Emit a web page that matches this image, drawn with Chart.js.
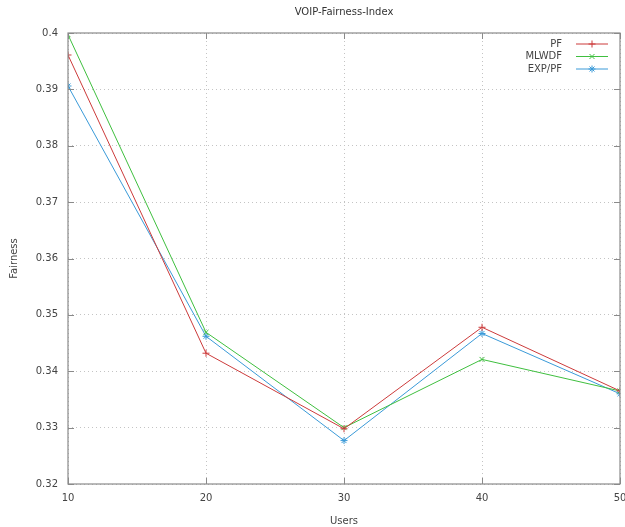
<!DOCTYPE html>
<html>
<head>
<meta charset="utf-8">
<script src="https://cdn.jsdelivr.net/npm/chart.js@4"></script>
<style>
  html, body { margin: 0; padding: 0; background: #fff; }
  #wrap { width: 625px; height: 527px; }
</style>
</head>
<body>
<div id="wrap"><canvas id="c" width="625" height="527"></canvas></div>
<script>
// Fairness index per number of users
const users = [10, 20, 30, 40, 50];
const pfValues    = [0.3961, 0.3432, 0.3298, 0.3478, 0.3365];
const mlwdfValues = [0.3997, 0.3469, 0.3300, 0.3421, 0.3365];
const expPfValues = [0.3906, 0.3462, 0.3277, 0.3467, 0.3360];
const yTicks = [0.32, 0.33, 0.34, 0.35, 0.36, 0.37, 0.38, 0.39, 0.4];
const xTicks = [10, 20, 30, 40, 50];
const chartTitle = 'VOIP-Fairness-Index';

const FONT = '"DejaVu Sans", sans-serif';
const FONT_SIZE = 10;
const TEXT_COLOR = '#444';
const AXIS_COLOR = '#8a8a8a';
const GRID_COLOR = '#c4c4c4';

const series = [
  { label: 'PF',     data: pfValues,    color: '#cc3b3b', style: 'cross' },
  { label: 'MLWDF',  data: mlwdfValues, color: '#3fbf3f', style: 'crossRot' },
  { label: 'EXP/PF', data: expPfValues, color: '#3a9ad8', style: 'star' }
];

// Plot frame with inward ticks on all four sides, and the title centred over the plot
const framePlugin = {
  id: 'frame',
  afterDatasetsDraw(chart) {
    const { ctx, chartArea: a, scales } = chart;
    ctx.save();
    ctx.strokeStyle = AXIS_COLOR;
    ctx.lineWidth = 1.2;
    ctx.strokeRect(a.left, a.top, a.right - a.left, a.bottom - a.top);
    ctx.lineWidth = 1;
    const t = 6;
    yTicks.forEach(v => {
      const y = Math.round(scales.y.getPixelForValue(v)) + 0.5;
      ctx.beginPath();
      ctx.moveTo(a.left, y); ctx.lineTo(a.left + t, y);
      ctx.moveTo(a.right, y); ctx.lineTo(a.right - t, y);
      ctx.stroke();
    });
    xTicks.forEach(v => {
      const x = Math.round(scales.x.getPixelForValue(v)) + 0.5;
      ctx.beginPath();
      ctx.moveTo(x, a.bottom); ctx.lineTo(x, a.bottom - t);
      ctx.moveTo(x, a.top); ctx.lineTo(x, a.top + t);
      ctx.stroke();
    });
    ctx.font = FONT_SIZE + 'px ' + FONT;
    ctx.fillStyle = '#333';
    ctx.textAlign = 'center';
    ctx.textBaseline = 'middle';
    ctx.fillText(chartTitle, (a.left + a.right) / 2, 12);
    ctx.restore();
  }
};

// Key in the upper right corner: label, then a line sample with its marker
const keyPlugin = {
  id: 'key',
  afterDraw(chart) {
    const { ctx, chartArea: a } = chart;
    ctx.save();
    ctx.font = FONT_SIZE + 'px ' + FONT;
    ctx.textAlign = 'right';
    ctx.textBaseline = 'middle';
    series.forEach((s, i) => {
      const y = a.top + 11 + i * 12.5;
      ctx.fillStyle = TEXT_COLOR;
      ctx.fillText(s.label, a.left + 494, y);
      const x0 = a.left + 508, x1 = a.left + 540;
      ctx.strokeStyle = s.color;
      ctx.lineWidth = 1;
      ctx.beginPath();
      ctx.moveTo(x0, y); ctx.lineTo(x1, y);
      ctx.stroke();
      Chart.helpers.drawPoint(ctx, {
        pointStyle: s.style, radius: 3.5, borderWidth: 1
      }, (x0 + x1) / 2, y);
    });
    ctx.restore();
  }
};

new Chart(document.getElementById('c'), {
  type: 'line',
  data: {
    datasets: series.map(s => ({
      label: s.label,
      data: users.map((u, i) => ({ x: u, y: s.data[i] })),
      borderColor: s.color,
      backgroundColor: s.color,
      borderWidth: 1,
      pointStyle: s.style,
      pointRadius: 3.5,
      pointBorderWidth: 1,
      pointBorderColor: s.color,
      tension: 0,
      fill: false
    }))
  },
  options: {
    responsive: false,
    animation: false,
    devicePixelRatio: 1,
    layout: { padding: { top: 33, right: 3, bottom: 0, left: 8 } },
    plugins: {
      legend: { display: false },
      tooltip: { enabled: false },
      title: { display: false }
    },
    scales: {
      x: {
        type: 'linear',
        min: 10, max: 50,
        afterBuildTicks(scale) { scale.ticks = xTicks.map(v => ({ value: v })); },
        afterFit(scale) { scale.height = 43; scale.paddingRight = 0; scale.paddingLeft = 0; },
        grid: { color: GRID_COLOR, lineWidth: 1, drawTicks: false },
        border: { display: false, dash: [1, 3] },
        ticks: {
          color: TEXT_COLOR,
          padding: 8,
          font: { family: FONT, size: FONT_SIZE },
          maxRotation: 0,
          callback: v => String(v)
        },
        title: {
          display: true,
          text: 'Users',
          color: TEXT_COLOR,
          font: { family: FONT, size: FONT_SIZE },
          padding: { top: 3, bottom: 0 }
        }
      },
      y: {
        type: 'linear',
        min: 0.32, max: 0.4,
        afterBuildTicks(scale) { scale.ticks = yTicks.map(v => ({ value: v })); },
        afterFit(scale) { scale.width = 60; },
        grid: { color: GRID_COLOR, lineWidth: 1, drawTicks: false },
        border: { display: false, dash: [1, 3] },
        ticks: {
          color: TEXT_COLOR,
          padding: 10,
          font: { family: FONT, size: FONT_SIZE },
          callback: v => String(Number(v.toFixed(2)))
        },
        title: {
          display: true,
          text: 'Fairness',
          color: TEXT_COLOR,
          font: { family: FONT, size: FONT_SIZE },
          padding: { top: 0, bottom: 0 }
        }
      }
    }
  },
  plugins: [framePlugin, keyPlugin]
});
</script>
</body>
</html>
